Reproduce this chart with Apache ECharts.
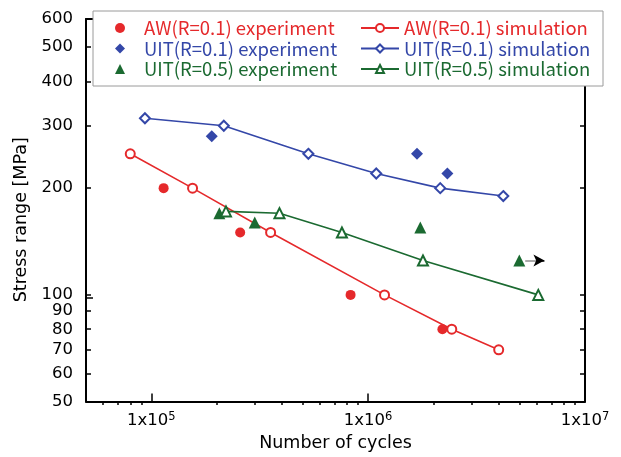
<!DOCTYPE html>
<html>
<head>
<meta charset="utf-8">
<script src="https://cdn.jsdelivr.net/npm/echarts@6/dist/echarts.min.js"></script>
<style>
  html, body { margin: 0; padding: 0; background: #fff; }
  #chart { width: 621px; height: 457px; }
</style>
</head>
<body>
<div id="chart"></div>
<script>
  // values
  const awExpN = [1.14e5, 2.57e5, 8.3e5, 2.2e6];
  const awExpS = [200, 150, 100, 80];
  const awSimN = [8.0e4, 1.55e5, 3.55e5, 1.19e6, 2.43e6, 4.0e6];
  const awSimS = [250, 200, 150, 100, 80, 70];

  const uit1ExpN = [1.9e5, 1.68e6, 2.32e6];
  const uit1ExpS = [280, 250, 220];
  const uit1SimN = [9.35e4, 2.16e5, 5.3e5, 1.09e6, 2.15e6, 4.2e6];
  const uit1SimS = [315, 300, 250, 220, 200, 190];

  const uit5ExpN = [2.06e5, 3.0e5, 1.74e6, 4.98e6];
  const uit5ExpS = [170, 160, 155, 125];
  const uit5SimN = [2.21e5, 3.9e5, 7.57e5, 1.79e6, 6.09e6];
  const uit5SimS = [172, 170, 150, 125, 100];

  // run-out specimen (arrow), from / to cycles at its stress
  const runoutN = [5.3e6, 6.0e6, 6.5e6];
  const runoutS = 125;

  const xMajor = [1e5, 1e6, 1e7];
  const xMinor = [6e4, 7e4, 8e4, 9e4, 2e5, 3e5, 4e5, 5e5, 6e5, 7e5, 8e5, 9e5,
                  2e6, 3e6, 4e6, 5e6, 6e6, 7e6, 8e6, 9e6];
  const yTicks = [50, 60, 70, 80, 90, 100, 200, 300, 400, 500, 600];

  const RED = '#e5292b';
  const BLUE = '#3447a8';
  const GREEN = '#1b6a31';
  const sans = '"DejaVu Sans", sans-serif';
  const legendFont = '"Noto Sans CJK JP", "Noto Sans", sans-serif';

  const pairs = (xs, ys) => xs.map((x, i) => [x, ys[i]]);

  const chart = echarts.init(document.getElementById('chart'));

  const grid = { left: 86, right: 36, top: 19, bottom: 52 };

  const option = {
    animation: false,
    backgroundColor: '#fff',
    grid: [grid, Object.assign({}, grid)],
    xAxis: [
      {
        type: 'log', min: 5e4, max: 1e7, gridIndex: 0, position: 'bottom',
        name: 'Number of cycles', nameLocation: 'middle', nameGap: 27,
        nameTextStyle: { fontFamily: sans, fontSize: 17.5, color: '#000', verticalAlign: 'top' },
        axisLine: { lineStyle: { color: '#000', width: 2 } },
        axisTick: { inside: true, length: 8, customValues: xMajor, lineStyle: { color: '#000', width: 1.5 } },
        axisLabel: {
          customValues: xMajor, margin: 9, color: '#000',
          formatter: (v) => '{b|1x10}{s|' + Math.round(Math.log10(v)) + '}',
          rich: {
            b: { fontSize: 16.5, fontFamily: sans, color: '#000', lineHeight: 20 },
            s: { fontSize: 11.5, fontFamily: sans, color: '#000', verticalAlign: 'top', lineHeight: 12 }
          }
        },
        splitLine: { show: false }
      },
      {
        type: 'log', min: 5e4, max: 1e7, gridIndex: 0, position: 'top',
        axisLine: { lineStyle: { color: '#000', width: 2 } },
        axisTick: { inside: true, length: 8, customValues: xMajor, lineStyle: { color: '#000', width: 1.5 } },
        axisLabel: { show: false },
        splitLine: { show: false }
      },
      {
        type: 'log', min: 5e4, max: 1e7, gridIndex: 1, position: 'bottom',
        axisLine: { show: false },
        axisTick: { inside: true, length: 4, customValues: xMinor, lineStyle: { color: '#000', width: 1.5 } },
        axisLabel: { show: false },
        splitLine: { show: false }
      }
    ],
    yAxis: [
      {
        type: 'log', min: 50, max: 600, gridIndex: 0, position: 'left',
        name: 'Stress range [MPa]', nameLocation: 'middle', nameGap: 54,
        nameTextStyle: { fontFamily: sans, fontSize: 17.5, color: '#000', padding: [0, 19, 0, 0] },
        axisLine: { lineStyle: { color: '#000', width: 2 } },
        axisTick: { inside: true, length: 5, customValues: yTicks, lineStyle: { color: '#000', width: 1.5 } },
        axisLabel: { customValues: yTicks, margin: 13, color: '#000', fontFamily: sans, fontSize: 16.5 },
        splitLine: { show: false }
      },
      {
        type: 'log', min: 50, max: 600, gridIndex: 0, position: 'right',
        axisLine: { lineStyle: { color: '#000', width: 2 } },
        axisTick: { inside: true, length: 5, customValues: yTicks, lineStyle: { color: '#000', width: 1.5 } },
        axisLabel: { show: false },
        splitLine: { show: false }
      },
      {
        type: 'log', min: 50, max: 600, gridIndex: 1, position: 'left',
        axisLine: { show: false },
        axisTick: { inside: true, length: 7, customValues: [100], lineStyle: { color: '#000', width: 1.5 } },
        axisLabel: { show: false },
        splitLine: { show: false }
      }
    ],
    graphic: [
      {
        type: 'rect', z: 3, silent: true,
        shape: { x: 93, y: 11, width: 510, height: 75 },
        style: { fill: '#fff', stroke: '#9a9a9a', lineWidth: 1 }
      }
    ],
    legend: [
      {
        orient: 'vertical', left: 115, top: 18, z: 5, padding: 0,
        itemWidth: 10, itemHeight: 10, itemGap: 0.5,
        data: ['AW(R=0.1) experiment', 'UIT(R=0.1) experiment', 'UIT(R=0.5) experiment'],
        textStyle: { fontFamily: legendFont, fontSize: 18.5, lineHeight: 20, padding: [0, 0, 0, 14] }
      },
      {
        orient: 'vertical', left: 360, top: 18, z: 5, padding: 0,
        itemWidth: 38, itemHeight: 10, itemGap: 0.5,
        data: ['AW(R=0.1) simulation', 'UIT(R=0.1) simulation', 'UIT(R=0.5) simulation'],
        textStyle: { fontFamily: legendFont, fontSize: 18.5, lineHeight: 20 }
      }
    ],
    series: [
      {
        name: 'AW(R=0.1) experiment', type: 'scatter', data: pairs(awExpN, awExpS),
        symbol: 'circle', symbolSize: 10, itemStyle: { color: RED, opacity: 1 }, z: 3
      },
      {
        name: 'UIT(R=0.1) experiment', type: 'scatter', data: pairs(uit1ExpN, uit1ExpS),
        symbol: 'diamond', symbolSize: 12, itemStyle: { color: BLUE, opacity: 1 }, z: 3
      },
      {
        name: 'UIT(R=0.5) experiment', type: 'scatter', data: pairs(uit5ExpN, uit5ExpS),
        symbol: 'triangle', symbolSize: 12, itemStyle: { color: GREEN, opacity: 1 }, z: 3,
        markLine: {
          silent: true, animation: false,
          label: { show: false },
          data: [
            [
              { coord: [runoutN[0], runoutS], symbol: 'none', lineStyle: { color: '#aaaaaa', width: 2, type: 'solid' } },
              { coord: [runoutN[1], runoutS], symbol: 'none' }
            ],
            [
              { coord: [runoutN[1], runoutS], symbol: 'none', lineStyle: { color: '#000', width: 1.5, type: 'solid' } },
              { coord: [runoutN[2], runoutS], symbol: 'arrow', symbolSize: [9, 11] }
            ]
          ]
        }
      },
      {
        name: 'AW(R=0.1) simulation', type: 'line', data: pairs(awSimN, awSimS),
        symbol: 'emptyCircle', symbolSize: 9, color: RED,
        lineStyle: { color: RED, width: 1.6 }, itemStyle: { color: RED, borderWidth: 1.1 }
      },
      {
        name: 'UIT(R=0.1) simulation', type: 'line', data: pairs(uit1SimN, uit1SimS),
        symbol: 'emptyDiamond', symbolSize: 10, color: BLUE,
        lineStyle: { color: BLUE, width: 1.6 }, itemStyle: { color: BLUE, borderWidth: 1.1 }
      },
      {
        name: 'UIT(R=0.5) simulation', type: 'line', data: pairs(uit5SimN, uit5SimS),
        symbol: 'emptyTriangle', symbolSize: 10, color: GREEN,
        lineStyle: { color: GREEN, width: 1.6 }, itemStyle: { color: GREEN, borderWidth: 1.1 }
      }
    ]
  };

  // legend text in the series colour
  option.legend.forEach((lg) => {
    lg.data = lg.data.map((name) => {
      const s = option.series.find((x) => x.name === name);
      return { name, textStyle: { color: s.itemStyle.color } };
    });
  });

  chart.setOption(option);
  window.addEventListener('resize', () => chart.resize());
</script>
</body>
</html>
